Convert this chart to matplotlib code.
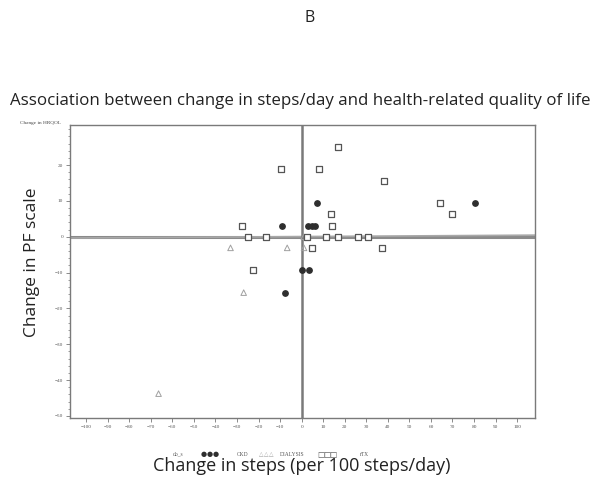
import matplotlib
matplotlib.use("Agg")
import matplotlib.pyplot as plt
from matplotlib.ticker import MultipleLocator
import numpy as np

# Data (x: change in steps per 100 steps/day, y: change in PF scale)
ckd_x = [7.1, 80.3, -9.3, 3.0, 4.6, 6.2, 0.3, 3.5, -7.9]
ckd_y = [9.4, 9.4, 3.1, 3.1, 3.1, 3.1, -9.4, -9.4, -15.6]

dial_x = [-33.0, -6.7, 1.1, -26.9, -66.4, 1.0]
dial_y = [-3.1, -3.1, -3.1, -15.6, -43.8, 0.0]

rtx_x = [17.0, -9.6, 8.0, 38.2, 64.0, 69.6, 13.5, -27.8, 13.9,
         -24.9, -16.7, 2.3, 11.4, 16.8, 26.0, 31.0, 4.9, 37.1, -22.7]
rtx_y = [25.0, 18.8, 18.8, 15.6, 9.4, 6.3, 6.3, 3.1, 3.1,
         0.0, 0.0, 0.0, 0.0, 0.0, 0.0, 0.0, -3.1, -3.1, -9.4]

x_ticks = list(range(-100, 101, 10))
y_ticks = list(range(-50, 21, 10))
legend_labels = ["do_s", "CKD", "DIALYSIS", "rTX"]

sans = "Open Sans"
fig = plt.figure(figsize=(6, 4.91), dpi=100)
ax = fig.add_axes([70/600, 1-418/491, 465/600, 293/491])

ax.set_xlim(-107.5, 108.3)
ax.set_ylim(-50.6, 31.2)

# reference lines
ax.axhline(0, color="#8a8a8a", lw=2.2, zorder=1)
ax.plot([-107.5, 108.3], [-0.35, 0.45], color="#a8a8a8", lw=1.2, zorder=1)
ax.axvline(0, color="#7a7a7a", lw=1.8, zorder=1)

ax.scatter(ckd_x, ckd_y, s=15, marker="o", color="#2e2e2e", zorder=3)
ax.scatter(dial_x, dial_y, s=16, marker="^", facecolors="none",
           edgecolors="#a0a0a0", linewidths=0.7, zorder=3)
ax.scatter(rtx_x, rtx_y, s=15, marker="s", facecolors="white",
           edgecolors="#555555", linewidths=0.9, zorder=3)

for sp in ax.spines.values():
    sp.set_color("#7a7a7a")
    sp.set_linewidth(1.0)

ax.set_xticks(x_ticks)
ax.set_yticks(y_ticks)
ax.yaxis.set_minor_locator(MultipleLocator(2))
ax.tick_params(axis="both", which="major", length=3, width=0.6, color="#777777",
               labelsize=3.8, labelcolor="#555555", pad=2)
ax.tick_params(axis="y", which="minor", length=1.5, width=0.5, color="#777777")
for lab in ax.get_xticklabels() + ax.get_yticklabels():
    lab.set_fontfamily("Liberation Serif")

# titles and labels
fig.text(310/600, 1-18/491, "B", ha="center", va="center", fontsize=11.5,
         family=sans, color="#222222")
fig.text(300/600, 1-101/491,
         "Association between change in steps/day and health-related quality of life",
         ha="center", va="center", fontsize=12.2, family=sans, color="#222222")
fig.text(40/600, 1-123/491, "Change in HRQOL", ha="center", va="center",
         fontsize=3.8, family="Liberation Serif", color="#444444")
fig.text(302/600, 1-466/491, "Change in steps (per 100 steps/day)",
         ha="center", va="center", fontsize=13, family=sans, color="#222222")
fig.text(32/600, 1-262/491, "Change in PF scale", ha="center", va="center",
         rotation=90, fontsize=12.5, family=sans, color="#222222")

# legend row
ly = 1 - 454/491
fig.text(178/600, ly, legend_labels[0], ha="center", va="center", fontsize=4,
         family="Liberation Serif", color="#555555")
for i in range(3):
    fig.text((204 + i*6)/600, ly, "\u25CF", ha="center", va="center", fontsize=5,
             color="#2e2e2e", family="DejaVu Sans")
    fig.text((261 + i*5)/600, ly, "\u25B3", ha="center", va="center", fontsize=4.2,
             color="#a0a0a0", family="DejaVu Sans")
    fig.text((321 + i*6)/600, ly, "\u25A1", ha="center", va="center", fontsize=5.5,
             color="#555555", family="DejaVu Sans")
fig.text(243/600, ly, legend_labels[1], ha="center", va="center", fontsize=4,
         family="Liberation Serif", color="#555555")
fig.text(292/600, ly, legend_labels[2], ha="center", va="center", fontsize=4,
         family="Liberation Serif", color="#555555")
fig.text(365/600, ly, legend_labels[3], ha="center", va="center", fontsize=4,
         family="Liberation Serif", color="#555555")

fig.savefig("out.png", dpi=100)
